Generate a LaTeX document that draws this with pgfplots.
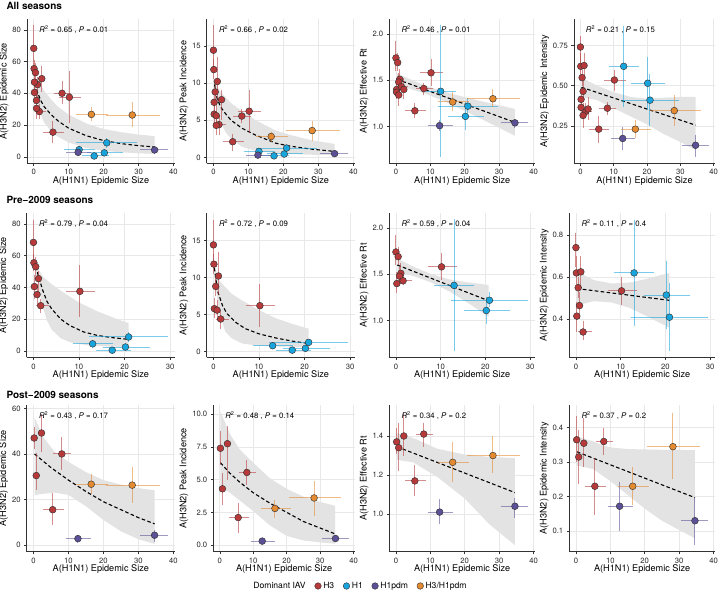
\documentclass[border=0pt]{standalone}
\usepackage{fontspec}
\setmainfont{TeX Gyre Heros}
\usepackage{pgfplots}
\usepackage{pgfplotstable}
\pgfplotsset{compat=1.18}

\definecolor{cH3}{RGB}{183,57,58}
\definecolor{cH1}{RGB}{24,165,222}
\definecolor{cPdm}{RGB}{92,80,150}
\definecolor{cMix}{RGB}{228,138,48}

% seasons: x = A(H1N1) size; sz = size, pk = peak, rt = Rt, it = intensity
\pgfplotstableread{
x xlo xhi sz szlo szhi pk pklo pkhi rt rtlo rthi it itlo ithi
0.0 0.0 0.3 68.3 52 82.7 14.4 12.0 17.8 1.74 1.60 1.92 0.74 0.65 0.81
0.1 0.0 0.4 55.5 50 61 11.8 10.5 13.2 nan nan nan 0.62 0.55 0.70
0.5 0.2 0.9 53 47 59 8.8 7.5 10.2 1.69 1.60 1.79 0.55 0.50 0.60
1.1 0.6 1.7 45.5 36 50 10.2 7.6 13.5 1.51 1.40 1.62 0.625 0.55 0.70
0.2 0.0 0.5 40.5 33 48 5.8 4.5 7.3 1.40 1.30 1.52 0.415 0.34 0.48
0.8 0.4 1.3 35.5 29 42 5.6 4.2 7.0 1.48 1.38 1.58 0.465 0.40 0.53
1.6 0.5 3.5 28.5 24 33 4.4 3.0 5.6 1.43 1.38 1.49 0.34 0.30 0.39
10.2 7.1 13.6 37.5 21.5 54 6.2 3.3 9.1 1.58 1.44 1.73 0.535 0.47 0.60
}\preH
\pgfplotstableread{
x xlo xhi sz szlo szhi pk pklo pkhi rt rtlo rthi it itlo ithi
0.2 0.0 0.7 47 42 52 7.4 6.1 8.7 1.37 1.31 1.44 0.365 0.30 0.434
2.3 1.4 3.3 49.2 41 57.5 7.75 5.0 9.1 1.40 1.30 1.52 0.355 0.287 0.427
0.8 0.2 1.5 30.5 24.1 40.2 4.3 3.06 5.5 1.34 1.22 1.465 0.315 0.238 0.393
8.1 5.7 10.7 40 33 47.5 5.55 4.6 6.5 1.41 1.345 1.465 0.36 0.32 0.398
5.5 2.7 8.7 15.5 8.8 22.7 2.1 0.9 3.2 1.17 1.09 1.25 0.23 0.146 0.311
}\postH
\pgfplotstableread{
x xlo xhi sz szlo szhi pk pklo pkhi rt rtlo rthi it itlo ithi
13.0 8.6 17.5 4.5 2 7 0.8 0.5 1.1 1.38 0.675 2.09 0.62 0.37 0.87
17.3 13.8 21.5 0.5 0 1.5 0.2 0.1 0.35 nan nan nan nan nan nan
20.2 15.2 25.5 2.5 0.8 4.3 0.45 0.2 0.7 1.11 0.96 1.26 0.515 0.352 0.678
20.9 12.2 29.6 8.8 5.5 12 1.25 0.9 1.6 1.22 1.15 1.31 0.41 0.25 0.574
}\hOne
\pgfplotstableread{
x xlo xhi sz szlo szhi pk pklo pkhi rt rtlo rthi it itlo ithi
12.7 9.2 16.5 2.8 0.8 4.5 0.3 0.15 0.45 1.01 0.95 1.075 0.172 0.10 0.243
34.6 30.5 38.5 4.3 1.5 6.6 0.5 0.3 0.75 1.04 0.98 1.08 0.13 0.059 0.195
}\pdm
\pgfplotstableread{
x xlo xhi sz szlo szhi pk pklo pkhi rt rtlo rthi it itlo ithi
16.5 12.2 21.2 26.7 22.4 31.2 2.8 2.1 3.45 1.265 1.165 1.37 0.23 0.175 0.287
28.2 20.8 36.1 26.3 18.6 34.4 3.6 2.2 4.9 1.30 1.21 1.40 0.345 0.25 0.443
}\mix

\newcommand\grp[3]{\addplot[only marks, mark=*, mark size=3.4bp, draw=#2, fill=#2,
  mark options={draw=black!80, fill=#2, line width=0.45bp},
  error bars/.cd, x dir=both, y dir=both, x explicit, y explicit, error mark=none,
  error bar style={draw=#2, line width=1bp, opacity=0.55}]
  table[x=x, y=#3,
    x error plus expr=\thisrow{xhi}-\thisrow{x}, x error minus expr=\thisrow{x}-\thisrow{xlo},
    y error plus expr=\thisrow{#3hi}-\thisrow{#3}, y error minus expr=\thisrow{#3}-\thisrow{#3lo}] {#1};}
\newcommand\band[1]{\addplot[draw=none, fill=black!11] coordinates {#1} -- cycle;}
\newcommand\fit[1]{\addplot[black, line width=1.1bp, dash pattern=on 3.6bp off 2.4bp, no marks] coordinates {#1};}
\newcommand\stat[2]{\node[anchor=west, font=\fontsize{7.8}{8}\selectfont] at (rel axis cs:0.06,0.925)
  {\textit{R}\textsuperscript{2} = #1 , \textit{P} = #2};}
\newcommand\allgrp[1]{\grp{\preH}{cH3}{#1}\grp{\postH}{cH3}{#1}\grp{\hOne}{cH1}{#1}\grp{\pdm}{cPdm}{#1}\grp{\mix}{cMix}{#1}}

\pgfplotsset{
  panel/.style={
    scale only axis, anchor=south west,
    axis lines*=left, axis line style={-, draw=black!80, line width=0.55bp},
    tick align=outside, major tick length=2.6bp,
    every tick/.style={draw=black!80, line width=0.5bp},
    grid=major, major grid style={draw=black!9, line width=0.55bp},
    tick label style={font=\fontsize{7.7}{8}\selectfont, text=black!85},
    label style={font=\fontsize{9.2}{10}\selectfont},
    /pgf/number format/assume math mode=true,
    xlabel={A(H1N1) Epidemic Size},
    xlabel style={yshift=5.5bp}, ylabel style={yshift=-3bp},
  },
  r1/.style={panel, height=144.3bp, xmin=-1.93, xmax=40.43, xtick={0,10,20,30,40}},
  r2/.style={panel, height=144.5bp, xmin=-1.48, xmax=31.08, xtick={0,10,20,30}},
  r3/.style={panel, height=146.7bp, xmin=-1.93, xmax=40.43, xtick={0,10,20,30,40}},
  fmt/.style={yticklabel style={/pgf/number format/fixed, /pgf/number format/fixed zerofill, /pgf/number format/precision=#1}},
}

\begin{document}
\begin{tikzpicture}
\path[use as bounding box] (0,0) rectangle (720bp,594bp);
\node[anchor=west, font=\bfseries\fontsize{10}{11}\selectfont] at (3bp,588bp) {All seasons};
\node[anchor=west, font=\bfseries\fontsize{10}{11}\selectfont] at (3bp,394bp) {Pre−2009 seasons};
\node[anchor=west, font=\bfseries\fontsize{10}{11}\selectfont] at (3bp,199bp) {Post−2009 seasons};

% ---------------- row 1: all seasons
\begin{axis}[r1, at={(27bp,430.7bp)}, width=148bp, ymin=-4.1, ymax=86.8, ytick={0,20,40,60,80},
  ylabel={A(H3N2) Epidemic Size}]
\band{(0.3,50) (1,48) (2,45) (3,41.5) (5,36) (7,31.5) (10,26.5) (15,21) (20,17.5) (25,15.5) (30,14) (34.6,13)
  (34.6,1.8) (30,2.2) (25,2.8) (20,3.8) (15,5.5) (10,9) (7,12.5) (5,16) (3,21.5) (2,26.5) (1,34) (0.3,42)}
\fit{(0.3,46) (0.6,44) (1,41) (2,35.5) (3,31.5) (5,26.5) (7,22.5) (10,18) (15,13.3) (20,10.2) (25,8.3) (30,7.0) (34.6,6.2)}
\allgrp{sz}
\stat{0.65}{0.01}
\end{axis}

\begin{axis}[r1, at={(206.7bp,430.7bp)}, width=148.3bp, ymin=-0.8, ymax=18.6, ytick={0,5,10,15},
  ylabel={A(H3N2) Peak Incidence}]
\band{(0.3,10.5) (1,9.6) (2,8.8) (3.4,8.1) (5,7.3) (8.2,6.2) (12,5) (17.8,3.6) (22,3.0) (28,2.3) (34.6,1.8)
  (34.6,0.3) (28,0.35) (22,0.45) (17.8,0.55) (12,0.9) (8.2,1.4) (5,2.5) (3.4,3.4) (2,4.8) (1,6.5) (0.3,9)}
\fit{(0.3,9.8) (1,8) (2,6.8) (3.4,5.9) (5,5.0) (8.2,3.9) (12,3.0) (17.8,1.9) (22,1.5) (28,1.1) (34.6,0.8)}
\allgrp{pk}
\stat{0.66}{0.02}
\end{axis}

\begin{axis}[r1, at={(389.3bp,430.7bp)}, width=145.7bp, ymin=0.604, ymax=2.16, ytick={1,1.5,2}, fmt=1,
  ylabel={A(H3N2) Effective Rt}]
\band{(0.3,1.575) (3,1.528) (6,1.481) (9,1.437) (13,1.388) (17,1.346) (21,1.308) (25,1.272) (30,1.230) (34.6,1.190)
  (34.6,0.900) (30,0.986) (25,1.078) (21,1.150) (17,1.222) (13,1.288) (9,1.347) (6,1.385) (3,1.418) (0.3,1.445)}
\fit{(0.3,1.510) (34.6,1.045)}
\allgrp{rt}
\stat{0.46}{0.01}
\end{axis}

\begin{axis}[r1, at={(574bp,430.7bp)}, width=141bp, ymin=0.018, ymax=0.914, ytick={0.25,0.5,0.75}, fmt=2,
  ylabel={A(H3N2) Epidemic Intensity}]
\band{(0.3,0.55) (5,0.50) (10,0.46) (15,0.43) (20,0.42) (25,0.425) (30,0.43) (34.6,0.43)
  (34.6,0.10) (30,0.15) (25,0.2) (20,0.26) (15,0.31) (10,0.36) (5,0.41) (0.3,0.43)}
\fit{(0.3,0.49) (34.6,0.255)}
\allgrp{it}
\stat{0.21}{0.15}
\end{axis}

% ---------------- row 2: pre-2009
\begin{axis}[r2, at={(26.7bp,236.5bp)}, width=148.3bp, ymin=-4.1, ymax=86.8, ytick={0,20,40,60,80},
  ylabel={A(H3N2) Epidemic Size}]
\band{(0.3,58) (1,52) (2,47) (4,42) (7,36) (10,30.5) (14,25) (17.5,21) (20.9,17.5)
  (20.9,2.5) (16,2.8) (12,3.5) (8,5.5) (6,8) (4,13.5) (3,19) (2,28) (1,42) (0.3,54)}
\fit{(0.3,57) (1,48) (2,38.5) (3,31) (4,26.5) (6,20) (8,16) (11,12) (14,9.8) (17,8.5) (20.9,7.3)}
\grp{\preH}{cH3}{sz}\grp{\hOne}{cH1}{sz}
\stat{0.79}{0.04}
\end{axis}

\begin{axis}[r2, at={(206.7bp,236.5bp)}, width=148.3bp, ymin=-0.79, ymax=18.7, ytick={0,5,10,15},
  ylabel={A(H3N2) Peak Incidence}]
\band{(0.2,12) (0.6,10.8) (1,9.8) (2.6,8.7) (4,7.8) (6.3,6.9) (10,5.6) (13.7,4.5) (17.5,3.7) (20.9,3.1)
  (20.9,0.6) (13.7,0.7) (10,0.8) (6.3,1.1) (4,1.8) (2.6,2.7) (1.8,4.2) (1,6.3) (0.6,8.2) (0.2,10.5)}
\fit{(0.2,11.3) (0.6,9.5) (1,8) (2,6.2) (3,5.1) (5,3.9) (7,3.1) (10,2.4) (14,1.8) (17.5,1.4) (20.9,1.1)}
\grp{\preH}{cH3}{pk}\grp{\hOne}{cH1}{pk}
\stat{0.72}{0.09}
\end{axis}

\begin{axis}[r2, at={(389.3bp,236.5bp)}, width=145.7bp, ymin=0.604, ymax=2.16, ytick={1,1.5,2}, fmt=1,
  ylabel={A(H3N2) Effective Rt}]
\band{(0.3,1.670) (4,1.580) (8,1.500) (12,1.444) (16,1.414) (20.7,1.385)
  (20.7,1.045) (16,1.194) (12,1.314) (8,1.410) (4,1.480) (0.3,1.530)}
\fit{(0.3,1.60) (20.7,1.215)}
\grp{\preH}{cH3}{rt}\grp{\hOne}{cH1}{rt}
\stat{0.59}{0.04}
\end{axis}

\begin{axis}[r2, at={(569.3bp,236.5bp)}, width=145.7bp, ymin=0.219, ymax=0.904, ytick={0.4,0.6,0.8}, fmt=1,
  ylabel={A(H3N2) Epidemic Intensity}]
\band{(0.2,0.626) (4,0.586) (8,0.570) (12,0.574) (16,0.593) (20.9,0.620)
  (20.9,0.360) (16,0.413) (12,0.454) (8,0.480) (4,0.486) (0.2,0.466)}
\fit{(0.2,0.546) (20.9,0.490)}
\grp{\preH}{cH3}{it}\grp{\hOne}{cH1}{it}
\stat{0.11}{0.4}
\end{axis}

% ---------------- row 3: post-2009
\begin{axis}[r3, at={(26.7bp,42.3bp)}, width=148.3bp, ymin=-2.94, ymax=61.5, ytick={0,20,40,60},
  ylabel={A(H3N2) Epidemic Size}]
\band{(0.3,56) (3,47) (6,41) (10,36.5) (15,32) (20,28.5) (25,26.5) (30,25) (34.6,24)
  (34.6,0.5) (30,2.5) (25,6) (20,11) (15,17) (10,22) (6,23) (3,22.5) (0.3,22)}
\fit{(0.3,40) (5,34) (10,28.5) (15,23.5) (20,19) (25,15.5) (30,12) (34.6,9.3)}
\grp{\postH}{cH3}{sz}\grp{\pdm}{cPdm}{sz}\grp{\mix}{cMix}{sz}
\stat{0.43}{0.17}
\end{axis}

\begin{axis}[r3, at={(213.3bp,42.3bp)}, width=141.7bp, ymin=-0.51, ymax=10.71, ytick={0,2.5,5,7.5,10}, fmt=1,
  ylabel={A(H3N2) Peak Incidence}]
\band{(0.2,10.2) (3,8.5) (6,7.3) (10,6.3) (15,5.1) (20,4.3) (25,3.7) (30,3.3) (34.5,3.0)
  (34.5,0.1) (30,0.2) (25,0.35) (20,0.7) (15,1.5) (10,2.6) (6,3.4) (3,4.0) (0.2,4.5)}
\fit{(0.2,6.3) (3,5.5) (6,4.8) (10,4) (15,3.2) (20,2.5) (25,1.8) (30,1.3) (34.5,0.85)}
\grp{\postH}{cH3}{pk}\grp{\pdm}{cPdm}{pk}\grp{\mix}{cMix}{pk}
\stat{0.48}{0.14}
\end{axis}

\begin{axis}[r3, at={(389.3bp,42.3bp)}, width=145.7bp, ymin=0.807, ymax=1.559, ytick={1,1.2,1.4}, fmt=1,
  ylabel={A(H3N2) Effective Rt}]
\band{(0.3,1.415) (5,1.39) (12,1.335) (20,1.305) (27,1.293) (34.6,1.287)
  (34.6,0.84) (27,0.95) (20,1.08) (12,1.19) (5,1.265) (0.3,1.278)}
\fit{(0.3,1.345) (34.6,1.11)}
\grp{\postH}{cH3}{rt}\grp{\pdm}{cPdm}{rt}\grp{\mix}{cMix}{rt}
\stat{0.34}{0.2}
\end{axis}

\begin{axis}[r3, at={(569.3bp,42.3bp)}, width=145.7bp, ymin=0.04, ymax=0.466, ytick={0.1,0.2,0.3,0.4}, fmt=1,
  ylabel={A(H3N2) Epidemic Intensity}]
\band{(0.3,0.375) (5,0.36) (8,0.348) (10,0.343) (15,0.338) (20,0.337) (25,0.336) (34.6,0.335)
  (34.6,0.079) (30,0.103) (25,0.13) (20,0.165) (15,0.205) (10,0.245) (5,0.28) (0.3,0.29)}
\fit{(0.3,0.33) (34.6,0.197)}
\grp{\postH}{cH3}{it}\grp{\pdm}{cPdm}{it}\grp{\mix}{cMix}{it}
\stat{0.37}{0.2}
\end{axis}

% ---------------- legend
\begin{axis}[hide axis, scale only axis, width=10bp, height=10bp, at={(360bp,8bp)}, anchor=center,
  xmin=0, xmax=1, ymin=0, ymax=1,
  legend style={at={(0.5,0.5)}, anchor=center, draw=none, fill=none, font=\fontsize{8.6}{9}\selectfont,
    inner sep=0pt, /tikz/every even column/.append style={column sep=7bp}},
  legend columns=5, legend cell align=left]
\addlegendimage{empty legend}\addlegendentry{Dominant IAV}
\addlegendimage{only marks, mark=*, mark size=3.3bp, mark options={fill=cH3, draw=black!80}}\addlegendentry{H3}
\addlegendimage{only marks, mark=*, mark size=3.3bp, mark options={fill=cH1, draw=black!80}}\addlegendentry{H1}
\addlegendimage{only marks, mark=*, mark size=3.3bp, mark options={fill=cPdm, draw=black!80}}\addlegendentry{H1pdm}
\addlegendimage{only marks, mark=*, mark size=3.3bp, mark options={fill=cMix, draw=black!80}}\addlegendentry{H3/H1pdm}
\end{axis}
\end{tikzpicture}
\end{document}
